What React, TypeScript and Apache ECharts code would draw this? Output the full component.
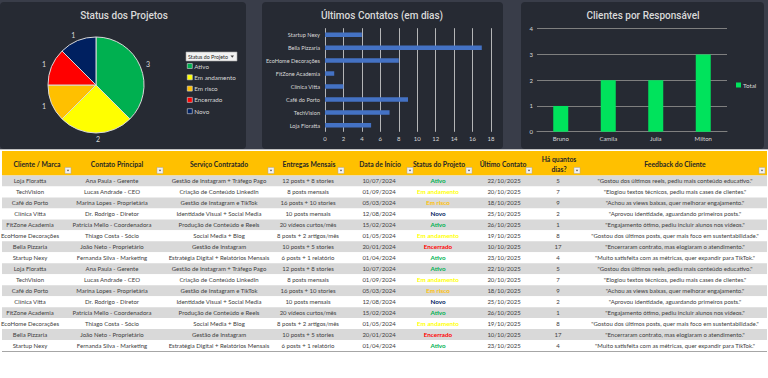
import React, { useEffect, useRef } from "react";
import * as echarts from "echarts";

// ---- Pie: status of projects ----
const STATUS_NAMES = ["Ativo", "Em andamento", "Em risco", "Encerrado", "Novo"];
const STATUS_COUNTS = [3, 2, 1, 1, 1];
const STATUS_COLORS = ["#00b050", "#ffff00", "#ffc000", "#ff0000", "#002060"];

// ---- Horizontal bars: last contact (days) ----
const CONTACT_CLIENTS = [
  "Loja Floratta",
  "TechVision",
  "Café do Porto",
  "Clínica Vitta",
  "FitZone Academia",
  "EcoHome Decorações",
  "Bella Pizzaria",
  "Startup Nexy",
];
const CONTACT_DAYS = [5, 7, 9, 2, 1, 8, 17, 4];

// ---- Columns: clients per owner ----
const OWNERS = ["Bruno", "Camila", "Julia", "Milton"];
const OWNER_TOTALS = [1, 2, 2, 3];

// ---- Table ----
const HEADERS = [
  "Cliente / Marca",
  "Contato Principal",
  "Serviço Contratado",
  "Entregas Mensais",
  "Data de Início",
  "Status do Projeto",
  "Último Contato",
  "Há quantos\ndias?",
  "Feedback do Cliente",
];
const CLIENTS = CONTACT_CLIENTS;
const CONTACTS = [
  "Ana Paula - Gerente",
  "Lucas Andrade - CEO",
  "Marina Lopes - Proprietária",
  "Dr. Rodrigo - Diretor",
  "Patrícia Mello - Coordenadora",
  "Thiago Costa - Sócio",
  "João Neto - Proprietário",
  "Fernanda Silva - Marketing",
];
const SERVICES = [
  "Gestão de Instagram + Tráfego Pago",
  "Criação de Conteúdo LinkedIn",
  "Gestão de Instagram e TikTok",
  "Identidade Visual + Social Media",
  "Produção de Conteúdo e Reels",
  "Social Media + Blog",
  "Gestão de Instagram",
  "Estratégia Digital + Relatórios Mensais",
];
const DELIVERIES = [
  "12 posts + 8 stories",
  "8 posts mensais",
  "16 posts + 10 stories",
  "10 posts mensais",
  "20 vídeos curtos/mês",
  "8 posts + 2 artigos/mês",
  "10 posts + 5 stories",
  "6 posts + 1 relatório",
];
const START_DATES = ["10/07/2024", "01/09/2024", "05/03/2024", "12/08/2024", "15/02/2024", "01/05/2024", "20/01/2024", "01/04/2024"];
const STATUSES = ["Ativo", "Em andamento", "Em risco", "Novo", "Ativo", "Em andamento", "Encerrado", "Ativo"];
const LAST_CONTACT = ["22/10/2025", "20/10/2025", "18/10/2025", "25/10/2025", "26/10/2025", "19/10/2025", "10/10/2025", "23/10/2025"];
const DAYS_AGO = [5, 7, 9, 2, 1, 8, 17, 4];
const FEEDBACK = [
  "\"Gostou dos últimos reels, pediu mais conteúdo educativo.\"",
  "\"Elogiou textos técnicos, pediu mais cases de clientes.\"",
  "\"Achou as views baixas, quer melhorar engajamento.\"",
  "\"Aprovou identidade, aguardando primeiros posts.\"",
  "\"Engajamento ótimo, pediu incluir alunos nos vídeos.\"",
  "\"Gostou dos últimos posts, quer mais foco em sustentabilidade.\"",
  "\"Encerraram contrato, mas elogiaram o atendimento.\"",
  "\"Muito satisfeita com as métricas, quer expandir para TikTok.\"",
];
const TABLE_ROW_ORDER = [0, 1, 2, 3, 4, 5, 6, 7, 0, 1, 2, 3, 4, 5, 6, 7];

// ---- layout (positions only) ----
const TABLE_LEFT = 2;
const TABLE_RIGHT = 767;
const HEADER_X = [37, 117, 219, 309, 380, 439, 503, 559, 675];
const BODY_X = [30, 112, 219, 308, 379, 438, 504, 558, 675];
const DROPDOWN_X = [65, 157, 268, 338, 407, 466, 526, 574, 759];

const LIGHT = "#d9d9d9";
const FONT = "Lato, 'Noto Sans', sans-serif";
const TITLE_FONT = "Roboto, 'Noto Sans', sans-serif";

export default function App() {
  const ref = useRef<HTMLDivElement>(null);

  useEffect(() => {
    if (!ref.current) return;
    const chart = echarts.init(ref.current, undefined, { renderer: "svg" });

    const statusColor: Record<string, string> = {};
    STATUS_NAMES.forEach((n, i) => (statusColor[n] = STATUS_COLORS[i]));

    const graphics: any[] = [
      { type: "rect", z: -10, silent: true, shape: { x: 0, y: 0, width: 768, height: 149 }, style: { fill: "#393d49" } },
      { type: "rect", z: -9, silent: true, shape: { x: 0, y: 2, width: 246, height: 147, r: 4 }, style: { fill: "#262a33" } },
      { type: "rect", z: -9, silent: true, shape: { x: 262, y: 2, width: 241, height: 147, r: 4 }, style: { fill: "#262a33" } },
      { type: "rect", z: -9, silent: true, shape: { x: 521, y: 2, width: 243, height: 147, r: 4 }, style: { fill: "#262a33" } },
      { type: "line", z: -8, silent: true, shape: { x1: 0, y1: 149.5, x2: 768, y2: 149.5 }, style: { stroke: "#bfbfbf", lineWidth: 1 } },
      // pivot field button
      { type: "rect", z: 5, silent: true, shape: { x: 186, y: 52, width: 51, height: 9 }, style: { fill: "#f2f2f2", stroke: "#a6a6a6", lineWidth: 0.6 } },
      { type: "text", z: 6, silent: true, x: 188, y: 56.5, style: { text: "Status do Projeto", fontSize: 5.3, fontFamily: FONT, fill: "#262626", verticalAlign: "middle" } },
      { type: "polygon", z: 6, silent: true, shape: { points: [[230.5, 55.5], [234, 55.5], [232.25, 57.7]] }, style: { fill: "#404040" } },
      // table header
      { type: "rect", z: -5, silent: true, shape: { x: TABLE_LEFT, y: 151, width: TABLE_RIGHT - TABLE_LEFT, height: 24.5 }, style: { fill: "#ffc000" } },
      { type: "line", z: 5, silent: true, shape: { x1: TABLE_LEFT, y1: 351.5, x2: TABLE_RIGHT, y2: 351.5 }, style: { stroke: "#a6a6a6", lineWidth: 1 } },
    ];
    HEADERS.forEach((h, j) => {
      graphics.push({
        type: "text",
        z: 6,
        silent: true,
        x: HEADER_X[j],
        y: 164,
        style: {
          text: h,
          align: "center",
          verticalAlign: "middle",
          fontSize: 6.8,
          lineHeight: 10,
          fontWeight: "bold",
          fontFamily: FONT,
          fill: "#262626",
        },
      });
      const dx = DROPDOWN_X[j];
      graphics.push({
        type: "rect",
        z: 6,
        silent: true,
        shape: { x: dx, y: 167.5, width: 6, height: 6 },
        style: { fill: "#f2f2f2", stroke: "#a6a6a6", lineWidth: 0.5 },
      });
      graphics.push({
        type: "polygon",
        z: 7,
        silent: true,
        shape: { points: [[dx + 1.7, 169.8], [dx + 4.3, 169.8], [dx + 3, 171.5]] },
        style: { fill: "#595959" },
      });
    });

    const option: any = {
      animation: false,
      backgroundColor: "#ffffff",
      title: [
        { text: "Status dos Projetos", left: 124, top: 10, textAlign: "center", padding: 0, textStyle: { color: LIGHT, fontSize: 10, fontWeight: 500, fontFamily: TITLE_FONT } },
        { text: "Últimos Contatos (em dias)", left: 382, top: 10, textAlign: "center", padding: 0, textStyle: { color: LIGHT, fontSize: 10, fontWeight: 500, fontFamily: TITLE_FONT } },
        { text: "Clientes por Responsável", left: 643, top: 10, textAlign: "center", padding: 0, textStyle: { color: LIGHT, fontSize: 10, fontWeight: 500, fontFamily: TITLE_FONT } },
      ],
      legend: [
        {
          data: STATUS_NAMES,
          orient: "vertical",
          left: 187,
          top: 62,
          padding: 0,
          itemWidth: 5,
          itemHeight: 5,
          itemGap: 3.3,
          icon: "rect",
          selectedMode: false,
          itemStyle: { borderColor: LIGHT, borderWidth: 0.6 },
          textStyle: { color: LIGHT, fontSize: 6.3, lineHeight: 8, fontFamily: FONT, padding: [0, 0, 0, -3] },
        },
        {
          data: ["Total"],
          orient: "vertical",
          left: 736,
          top: 81,
          padding: 0,
          itemWidth: 5,
          itemHeight: 5,
          icon: "rect",
          selectedMode: false,
          textStyle: { color: LIGHT, fontSize: 6.3, lineHeight: 8, fontFamily: FONT, padding: [0, 0, 0, -3] },
        },
      ],
      grid: [
        { left: 325, top: 28.2, width: 166, height: 103.6 },
        { left: 537, top: 28.7, width: 190, height: 103 },
        { left: 0, top: 175.5, width: 768, height: 175.5 },
      ],
      xAxis: [
        {
          gridIndex: 0,
          type: "value",
          min: 0,
          max: 18,
          interval: 2,
          axisLine: { show: false },
          axisTick: { show: false },
          axisLabel: { color: LIGHT, fontSize: 6, fontFamily: FONT, margin: 4 },
          splitLine: { show: true, lineStyle: { color: LIGHT, width: 0.8 } },
        },
        {
          gridIndex: 1,
          type: "category",
          data: OWNERS,
          axisLine: { show: true, lineStyle: { color: "#808080", width: 1 } },
          axisTick: { show: false },
          axisLabel: { color: LIGHT, fontSize: 6, fontFamily: FONT, margin: 4 },
        },
        { gridIndex: 2, type: "value", min: 0, max: 768, show: false },
      ],
      yAxis: [
        {
          gridIndex: 0,
          type: "category",
          data: CONTACT_CLIENTS,
          axisLine: { show: false },
          axisTick: { show: false },
          axisLabel: { color: LIGHT, fontSize: 5.6, fontFamily: FONT, margin: 5 },
        },
        {
          gridIndex: 1,
          type: "value",
          min: 0,
          max: 4,
          interval: 1,
          axisLine: { show: false },
          axisTick: { show: false },
          axisLabel: { color: LIGHT, fontSize: 6, fontFamily: FONT, margin: 4 },
          splitLine: { show: true, lineStyle: { color: "#7f7f7f", width: 1 } },
        },
        {
          gridIndex: 2,
          type: "category",
          data: TABLE_ROW_ORDER.map((_, i) => String(i)),
          inverse: true,
          show: false,
        },
      ],
      graphic: graphics,
      series: [
        {
          type: "pie",
          name: "Status",
          center: [96, 85],
          radius: 48,
          startAngle: 90,
          clockwise: true,
          silent: true,
          data: STATUS_NAMES.map((n, i) => ({ name: n, value: STATUS_COUNTS[i], itemStyle: { color: STATUS_COLORS[i] } })),
          itemStyle: { borderColor: LIGHT, borderWidth: 1 },
          label: { show: true, position: "outside", formatter: "{c}", color: LIGHT, fontSize: 7, fontFamily: FONT, distanceToLabelLine: 0 },
          labelLine: { show: false, length: 6, length2: 0 },
          emphasis: { disabled: true },
        },
        {
          type: "bar",
          name: "Dias",
          xAxisIndex: 0,
          yAxisIndex: 0,
          data: CONTACT_DAYS,
          barWidth: 4.5,
          itemStyle: { color: "#4472c4" },
          silent: true,
        },
        {
          type: "bar",
          name: "Total",
          xAxisIndex: 1,
          yAxisIndex: 1,
          data: OWNER_TOTALS,
          barWidth: 15,
          itemStyle: { color: "#00e35c" },
          silent: true,
        },
        {
          type: "custom",
          name: "Tabela",
          xAxisIndex: 2,
          yAxisIndex: 2,
          silent: true,
          encode: { x: 0, y: 1 },
          data: TABLE_ROW_ORDER.map((client, row) => [0, row, client]),
          renderItem: (params: any, api: any) => {
            const row = api.value(1);
            const client = api.value(2);
            const cy = api.coord([0, row])[1];
            const h = api.size([0, 1])[1];
            const xL = api.coord([TABLE_LEFT, row])[0];
            const xR = api.coord([TABLE_RIGHT, row])[0];
            const children: any[] = [
              {
                type: "rect",
                shape: { x: xL, y: cy - h / 2, width: xR - xL, height: h },
                style: { fill: row % 2 === 0 ? "#d9d9d9" : "#ffffff" },
              },
            ];
            const cells = [
              CLIENTS[client],
              CONTACTS[client],
              SERVICES[client],
              DELIVERIES[client],
              START_DATES[client],
              STATUSES[client],
              LAST_CONTACT[client],
              String(DAYS_AGO[client]),
              FEEDBACK[client],
            ];
            cells.forEach((t, j) => {
              const isStatus = j === 5;
              children.push({
                type: "text",
                x: api.coord([BODY_X[j], row])[0],
                y: cy,
                style: {
                  text: t,
                  align: "center",
                  verticalAlign: "middle",
                  fontSize: isStatus ? 6.3 : 6,
                  fontWeight: isStatus ? "bold" : "normal",
                  fontFamily: FONT,
                  fill: isStatus ? statusColor[t] : "#404040",
                },
              });
            });
            return { type: "group", children };
          },
        },
      ],
    };

    chart.setOption(option);
    return () => chart.dispose();
  }, []);

  return <div ref={ref} style={{ position: "absolute", left: 0, top: 0, width: 768, height: 378 }} />;
}
